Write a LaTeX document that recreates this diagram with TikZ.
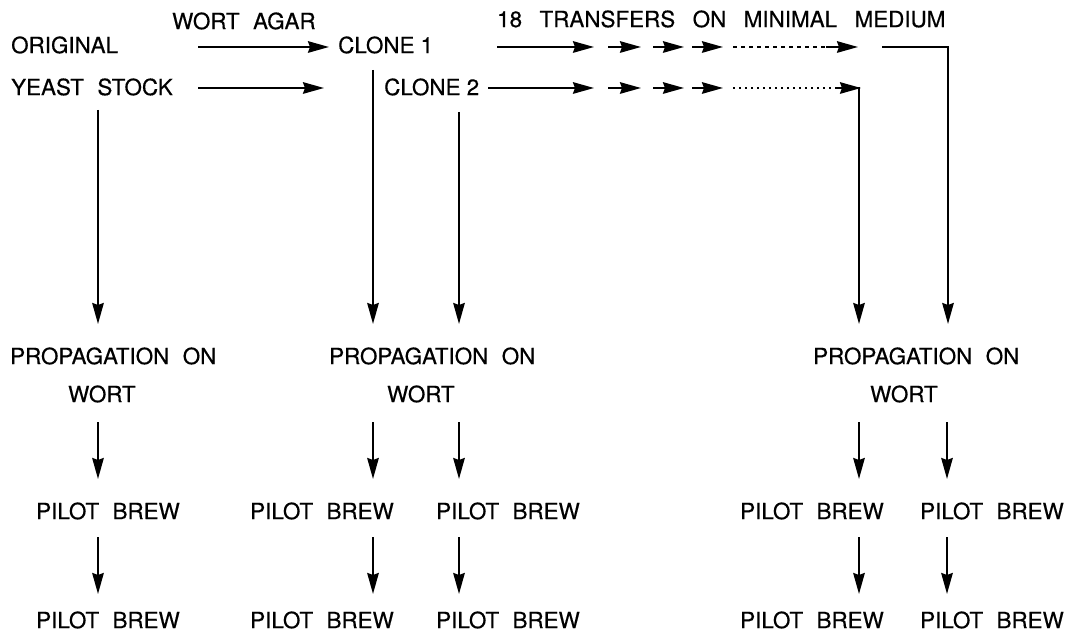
\documentclass[tikz,border=0pt]{standalone}
\usepackage{fontspec}
\setmainfont{TeX Gyre Heros}
\newfontfamily\lblfont{TeX Gyre Heros}[FakeBold=0.5]
\usetikzlibrary{arrows.meta}
\newcommand{\wsp}{\hspace{0.6em}}
\newcommand{\wsq}{\hspace{0.78em}}
\begin{document}
\begin{tikzpicture}[x=1pt,y=-1pt,
  lbl/.style={anchor=west,inner sep=0pt,font=\lblfont\fontsize{22.4}{26}\selectfont},
  arr/.style={line width=2.1pt,-{Stealth[length=21pt,width=11.5pt,inset=2pt]}},
  plain/.style={line width=2.1pt},
  dashline/.style={line width=1.8pt,dash pattern=on 4pt off 4pt},
  dotline/.style={line width=1.8pt,dash pattern=on 2pt off 4pt}]
\useasboundingbox (0,0) rectangle (1074,636);

% top texts
\node[lbl] (orig) at (11,45) {ORIGINAL};
\node[lbl] (yeast) at (11,87) {YEAST\wsp STOCK};
\node[lbl] (wagar) at (172,21) {WORT\wsp AGAR};
\node[lbl] (c1) at (338,45) {CLONE 1};
\node[lbl] (c2) at (384,87) {CLONE 2};
\node[lbl] (tr) at (497,19) {18\wsq TRANSFERS\wsq ON\wsq MINIMAL\wsq MEDIUM};

% bottom texts
\node[lbl] (pL) at (10,356) {PROPAGATION\wsp ON};
\node[lbl] (wL) at (68,394) {WORT};
\node[lbl] (bL1) at (36,511) {PILOT\wsp BREW};
\node[lbl] (bL2) at (36,620) {PILOT\wsp BREW};

\node[lbl] (pM) at (329,356) {PROPAGATION\wsp ON};
\node[lbl] (wM) at (387,394) {WORT};
\node[lbl] (bM1) at (250,511) {PILOT\wsp BREW};
\node[lbl] (bM2) at (436,511) {PILOT\wsp BREW};
\node[lbl] (bM3) at (250,620) {PILOT\wsp BREW};
\node[lbl] (bM4) at (436,620) {PILOT\wsp BREW};

\node[lbl] (pR) at (813,356) {PROPAGATION\wsp ON};
\node[lbl] (wR) at (870,394) {WORT};
\node[lbl] (bR1) at (740,511) {PILOT\wsp BREW};
\node[lbl] (bR2) at (920,511) {PILOT\wsp BREW};
\node[lbl] (bR3) at (740,620) {PILOT\wsp BREW};
\node[lbl] (bR4) at (920,620) {PILOT\wsp BREW};

% coordinates
\coordinate (a1s) at (198,47);  \coordinate (a1e) at (329,47);
\coordinate (a2s) at (198,88);  \coordinate (a2e) at (324,88);
\coordinate (vLs) at (98,110);  \coordinate (vLe) at (98,324);
\coordinate (v1s) at (373,70);  \coordinate (v1e) at (373,324);
\coordinate (v2s) at (459,112); \coordinate (v2e) at (459,324);

% top row transfers
\coordinate (t1s) at (497,47); \coordinate (t1e) at (594,47);
\coordinate (t2s) at (608,47); \coordinate (t2e) at (641,47);
\coordinate (t3s) at (653,47); \coordinate (t3e) at (684,47);
\coordinate (t4s) at (692,47); \coordinate (t4e) at (723,47);
\coordinate (t5s) at (733,47); \coordinate (t5e) at (826,47);
\coordinate (t6e) at (858,47);
\coordinate (tcs) at (882,47); \coordinate (tcc) at (948,47); \coordinate (tce) at (948,324);

% second row transfers
\coordinate (s1s) at (488,88); \coordinate (s1e) at (594,88);
\coordinate (s2s) at (608,88); \coordinate (s2e) at (641,88);
\coordinate (s3s) at (653,88); \coordinate (s3e) at (684,88);
\coordinate (s4s) at (692,88); \coordinate (s4e) at (723,88);
\coordinate (s5s) at (733,88); \coordinate (s5e) at (836,88);
\coordinate (s6e) at (861,88);
\coordinate (scc) at (859,87); \coordinate (sce) at (859,324);

% arrows top
\draw[arr] (a1s) -- (a1e);
\draw[arr] (a2s) -- (a2e);
\draw[arr] (vLs) -- (vLe);
\draw[arr] (v1s) -- (v1e);
\draw[arr] (v2s) -- (v2e);

\draw[arr] (t1s) -- (t1e);
\draw[arr] (t2s) -- (t2e);
\draw[arr] (t3s) -- (t3e);
\draw[arr] (t4s) -- (t4e);
\draw[dashline] (t5s) -- (t5e);
\draw[arr] (t5e) -- (t6e);
\draw[arr] (tcs) -- (tcc) -- (tce);

\draw[arr] (s1s) -- (s1e);
\draw[arr] (s2s) -- (s2e);
\draw[arr] (s3s) -- (s3e);
\draw[arr] (s4s) -- (s4e);
\draw[dotline] (s5s) -- (s5e);
\draw[arr] (s5e) -- (s6e);
\draw[arr] (scc) -- (sce);

% lower arrows
\foreach \x/\n in {98/L,373/M1,459/M2,859/R1,947/R2}{
  \coordinate (u\n s) at (\x,422); \coordinate (u\n e) at (\x,479);
  \draw[arr] (u\n s) -- (u\n e);
  \coordinate (d\n s) at (\x,537); \coordinate (d\n e) at (\x,594);
  \draw[arr] (d\n s) -- (d\n e);
}
\end{tikzpicture}
\end{document}
